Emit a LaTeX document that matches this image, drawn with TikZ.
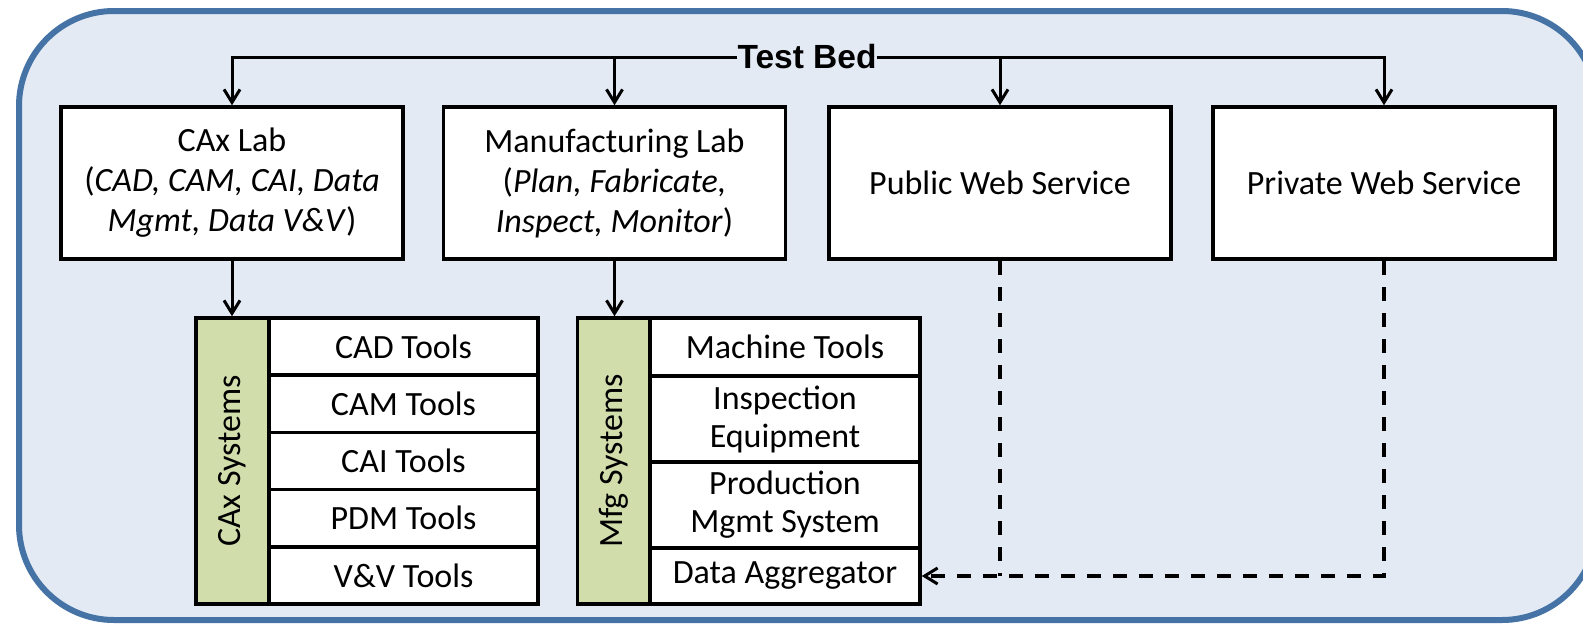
\documentclass[tikz,border=0pt]{standalone}
\usepackage{fontspec}
\setmainfont{Carlito}
\newfontfamily\arialfont{Liberation Sans}
\usetikzlibrary{arrows.meta}
\definecolor{outerblue}{HTML}{4673A6}
\definecolor{outerfill}{HTML}{E3EAF4}
\definecolor{stripgreen}{HTML}{D2DDAC}
\tikzset{
  mainfont/.style={font=\fontsize{34}{40}\selectfont},
  labbox/.style={draw=black, fill=white, line width=3.5pt, minimum width=342pt, minimum height=152pt, inner sep=0pt, align=center, mainfont},
  cell/.style={draw=black, fill=white, line width=3.5pt, inner sep=0pt, align=center, font=\fontsize{34}{38}\selectfont},
  stripbox/.style={draw=black, fill=stripgreen, line width=3.5pt, inner sep=0pt, rotate=90, mainfont},
  conn/.style={draw=black, line width=3pt, -{Straight Barb[length=13pt,width=16pt,line width=3pt]}},
  dashconn/.style={draw=black, line width=3.5pt, dash pattern=on 14pt off 12pt},
}
\begin{document}
\begin{tikzpicture}[x=1pt,y=-1pt]
\useasboundingbox (0,0) rectangle (1583,624);
\clip (0,0) rectangle (1583,624);
\fill[white] (0,0) rectangle (1583,624);
\draw[line width=6pt, draw=outerblue, fill=outerfill, rounded corners=95pt] (19,11) rectangle (1597,620);

% Test Bed title
\node[font=\arialfont\fontsize{33.5}{40}\selectfont\bfseries, inner sep=0pt] (tb) at (807,57) {Test Bed};

% top boxes
\node[labbox] (cax) at (232,183) {CAx Lab\\(\textit{CAD, CAM, CAI, Data}\\\textit{Mgmt, Data V\&V})};
\node[labbox] (mfgl) at (614.5,183) {Manufacturing Lab\\(\textit{Plan, Fabricate,}\\\textit{Inspect, Monitor})};
\node[labbox] (pub) at (1000,183) {Public Web Service};
\node[labbox] (priv) at (1384,183) {Private Web Service};

% CAx systems table
\node[stripbox, minimum width=286pt, minimum height=73pt] (caxs) at (232.5,461) {CAx Systems};
\node[cell, minimum width=269pt, minimum height=57.2pt] (cad) at (403.5,346.6) {CAD Tools};
\node[cell, minimum width=269pt, minimum height=57.2pt] (cam) at (403.5,403.8) {CAM Tools};
\node[cell, minimum width=269pt, minimum height=57.2pt] (cai) at (403.5,461) {CAI Tools};
\node[cell, minimum width=269pt, minimum height=57.2pt] (pdm) at (403.5,518.2) {PDM Tools};
\node[cell, minimum width=269pt, minimum height=57.2pt] (vv) at (403.5,575.4) {V\&V Tools};

% Mfg systems table
\node[stripbox, minimum width=286pt, minimum height=72.5pt] (mfgs) at (613.75,461) {Mfg Systems};
\node[cell, minimum width=270pt, minimum height=58pt] (mt) at (785,347) {Machine Tools};
\node[cell, minimum width=270pt, minimum height=86pt] (ie) at (785,419) {Inspection\\Equipment};
\node[cell, minimum width=270pt, minimum height=86pt] (pm) at (785,505) {Production\\Mgmt System};
\node[cell, minimum width=270pt, minimum height=56pt] (da) at (785,576) {Data Aggregator};

% connectors from Test Bed
\draw[conn] (tb.west) -| (cax.north);
\draw[conn] (tb.west -| mfgl.north) -- (mfgl.north);
\draw[conn] (tb.east) -| (priv.north);
\draw[conn] (tb.east -| pub.north) -- (pub.north);

% labs to systems
\draw[conn] (cax.south) -- (cax.south |- caxs.east);
\draw[conn] (mfgl.south) -- (mfgl.south |- mfgs.east);

% dashed web service links
\draw[dashconn] (pub.south) -- (pub.south |- da.east);
\draw[dashconn, -{Straight Barb[length=13pt,width=16pt,line width=3pt]}] (priv.south) |- (da.east);
\end{tikzpicture}
\end{document}
